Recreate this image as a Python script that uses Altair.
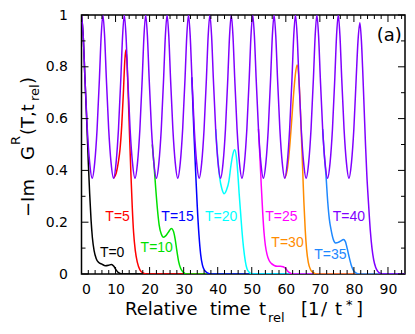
import altair as alt
import pandas as pd

# ---------------- data ----------------
# T=40 (purple) - oscillating curve visible on top
t_T40 = [0, 0.5, 1.0, 1.7, 2.4, 3.14, 3.88, 4.58, 5.28, 5.78,
         6.28, 6.78, 7.28, 7.98, 8.68, 9.42, 10.16, 10.86, 11.57, 12.07,
         12.57, 13.07, 13.57, 14.27, 14.97, 15.71, 16.45, 17.15, 17.85, 18.35,
         18.85, 19.35, 19.85, 20.55, 21.25, 21.99, 22.73, 23.43, 24.13, 24.63,
         25.13, 25.63, 26.13, 26.83, 27.53, 28.27, 29.01, 29.71, 30.42, 30.92,
         31.42, 31.92, 32.42, 33.12, 33.82, 34.56, 35.3, 36.0, 36.7, 37.2,
         37.7, 38.2, 38.7, 39.4, 40.1, 40.84, 41.58, 42.28, 42.98, 43.48,
         43.98, 44.48, 44.98, 45.68, 46.38, 47.12, 47.86, 48.56, 49.27, 49.77,
         50.27, 50.77, 51.27, 51.97, 52.67, 53.41, 54.15, 54.85, 55.55, 56.05,
         56.55, 57.05, 57.55, 58.25, 58.95, 59.69, 60.43, 61.13, 61.83, 62.33,
         62.83, 63.33, 63.83, 64.53, 65.23, 65.97, 66.71, 67.41, 68.12, 68.62,
         69.12, 69.62, 70.12, 70.82, 71.52, 72.26, 73.0, 73.7, 74.4, 74.9,
         75.4, 75.9, 76.4, 77.1, 77.8, 78.54, 79.28, 79.98, 80.68, 81.2,
         81.75, 82.2, 82.6, 83.0, 83.4, 83.8, 84.3, 84.8, 85.3, 85.8,
         86.4, 87.0, 87.8, 88.5, 95]
v_T40 = [1, .92, .76, .56, .43, .37, .43, .56, .76, .92,
         1, .92, .76, .56, .43, .37, .43, .56, .76, .92,
         1, .92, .76, .56, .43, .37, .43, .56, .76, .92,
         1, .92, .76, .56, .43, .37, .43, .56, .76, .92,
         1, .92, .76, .56, .43, .37, .43, .56, .76, .92,
         1, .92, .76, .56, .43, .37, .43, .56, .76, .92,
         1, .92, .76, .56, .43, .37, .43, .56, .76, .92,
         1, .92, .76, .56, .43, .37, .43, .56, .76, .92,
         1, .92, .76, .56, .43, .37, .43, .56, .76, .92,
         1, .92, .76, .56, .43, .37, .43, .56, .76, .92,
         1, .92, .76, .56, .43, .37, .43, .56, .76, .92,
         1, .92, .76, .56, .43, .37, .43, .56, .76, .92,
         1, .92, .76, .56, .43, .37, .43, .56, .76, .90,
         .97, .90, .78, .64, .50, .38, .27, .17, .10, .055,
         .025, .01, .002, 0, 0]

# T=0 (black)
t_T0 = [0, 0.5, 1.0, 1.6, 2.0, 2.4, 2.8, 3.2, 3.7, 4.3, 5.0, 6.0, 7.0, 8.0, 8.8, 9.5, 10.2, 11.0, 12.0, 95]
v_T0 = [1, .92, .76, .57, .43, .31, .21, .14, .09, .06, .045, .038, .032, .034, .037, .03, .015, .004, 0, 0]

# T=5 (red)
t_T5 = [9.42, 10.2, 10.8, 11.3, 11.8, 12.3, 12.7, 13.0, 13.3, 13.7, 14.1, 14.5, 14.9, 15.3, 15.8, 16.4, 17.2, 18.2, 19.0, 95]
v_T5 = [.37, .39, .43, .48, .57, .70, .82, .865, .83, .70, .54, .39, .26, .16, .09, .045, .015, .003, 0, 0]

# T=10 (green)
t_T10 = [20.8, 21.3, 21.8, 22.3, 22.8, 23.4, 24.1, 24.9, 25.7, 26.4, 27.0, 27.5, 28.0, 28.5, 29.1, 29.8, 30.8, 95]
v_T10 = [.50, .42, .33, .25, .19, .155, .142, .15, .165, .176, .165, .135, .09, .05, .022, .008, 0, 0]

# T=15 (blue)
t_T15 = [32.4, 33.0, 33.5, 34.0, 34.5, 35.0, 35.5, 36.1, 37.0, 38.0, 95]
v_T15 = [.76, .55, .40, .26, .15, .075, .035, .015, .004, 0, 0]

# T=20 (cyan)
t_T20 = [39.4, 40.0, 40.6, 41.2, 41.9, 42.6, 43.3, 43.9, 44.5, 45.0, 45.5, 45.9, 46.3, 46.7, 47.1, 47.6, 48.1, 48.6, 49.3, 50.2, 95]
v_T20 = [.56, .45, .37, .33, .31, .325, .36, .42, .465, .48, .45, .39, .31, .24, .17, .10, .05, .02, .006, 0, 0]

# T=25 (magenta)
t_T25 = [51.97, 52.4, 52.8, 53.2, 53.6, 54.0, 54.5, 55.1, 55.8, 56.6, 57.5, 58.4, 59.2, 59.9, 60.5, 61.2, 62.0, 95]
v_T25 = [.56, .45, .34, .24, .16, .11, .075, .052, .04, .033, .03, .03, .028, .022, .012, .004, 0, 0]

# T=30 (orange)
t_T30 = [59.69, 60.4, 61.0, 61.6, 62.2, 62.8, 63.3, 63.7, 64.1, 64.5, 64.9, 65.3, 65.7, 66.1, 66.6, 67.3, 68.2, 69.0, 95]
v_T30 = [.37, .40, .47, .57, .68, .77, .807, .78, .69, .56, .42, .28, .17, .095, .045, .016, .004, 0, 0]

# T=35 (light blue)
t_T35 = [70.82, 71.3, 71.8, 72.3, 72.8, 73.3, 73.9, 74.6, 75.4, 76.2, 76.9, 77.5, 78.0, 78.6, 79.2, 79.8, 80.6, 81.5, 95]
v_T35 = [.56, .46, .38, .28, .21, .17, .135, .12, .122, .128, .133, .125, .10, .065, .035, .015, .004, 0, 0]

series = [
    ("T=0", t_T0, v_T0, "#000000"),
    ("T=5", t_T5, v_T5, "#ff0000"),
    ("T=10", t_T10, v_T10, "#00e000"),
    ("T=15", t_T15, v_T15, "#0000ff"),
    ("T=20", t_T20, v_T20, "#00ffff"),
    ("T=25", t_T25, v_T25, "#ff00ff"),
    ("T=30", t_T30, v_T30, "#ff8c00"),
    ("T=35", t_T35, v_T35, "#1e88ff"),
    ("T=40", t_T40, v_T40, "#8000ff"),
]

# curve labels: text, t position, value position
label_text = ["T=0", "T=5", "T=10", "T=15", "T=20", "T=25", "T=30", "T=35", "T=40"]
label_t = [9.0, 10.6, 22.1, 28.2, 41.0, 58.7, 60.5, 73.1, 78.5]
label_v = [0.081, 0.22, 0.10, 0.22, 0.22, 0.22, 0.12, 0.073, 0.22]
label_color = ["#000000", "#ff0000", "#00e000", "#0000ff", "#00ffff", "#ff00ff", "#ff8c00", "#1e88ff", "#8000ff"]

# axes ticks
x_major = [0, 10, 20, 30, 40, 50, 60, 70, 80, 90]
x_minor = [2, 4, 6, 8, 12, 14, 16, 18, 22, 24, 26, 28, 32, 34, 36, 38, 42, 44, 46, 48,
           52, 54, 56, 58, 62, 64, 66, 68, 72, 74, 76, 78, 82, 84, 86, 88, 92, 94]
y_major = [0, 0.2, 0.4, 0.6, 0.8, 1.0]
y_minor = [0.1, 0.3, 0.5, 0.7, 0.9]

# ---------------- chart ----------------
W, H = 323.5, 259
FONT = "DejaVu Sans"

xs = alt.Scale(domain=[0, 95], nice=False, zero=False)
ys = alt.Scale(domain=[0, 1], nice=False)

X = alt.X("t:Q", scale=xs, axis=alt.Axis(values=x_major, ticks=False, domain=False, grid=False,
                                         labelFont=FONT, labelFontSize=14, labelColor="black",
                                         labelPadding=8, title=None))
Y = alt.Y("v:Q", scale=ys, axis=alt.Axis(values=y_major, ticks=False, domain=False, grid=False,
                                         labelFont=FONT, labelFontSize=14, labelColor="black",
                                         labelPadding=14, format=".1~f", title=None))

layers = []
for name, tt, vv, col in series:
    df = pd.DataFrame({"t": tt, "v": vv})
    layers.append(alt.Chart(df).mark_line(interpolate="monotone", strokeWidth=1.5, color=col, clip=True)
                  .encode(x=X, y=Y))

lab_df = pd.DataFrame({"t": label_t, "v": label_v, "txt": label_text, "c": label_color})
layers.append(alt.Chart(lab_df).mark_text(font="Liberation Sans", fontSize=14, align="center", baseline="middle")
              .encode(x=X, y=Y, text="txt:N", color=alt.Color("c:N", scale=None)))

# "(a)" panel tag
layers.append(alt.Chart(pd.DataFrame({"t": [90.4], "v": [0.919], "txt": ["(a)"]}))
              .mark_text(font=FONT, fontSize=18, align="center", baseline="middle", color="black")
              .encode(x=X, y=Y, text="txt:N"))

# inward ticks
dxM = pd.DataFrame({"t": x_major})
dxm = pd.DataFrame({"t": x_minor})
dyM = pd.DataFrame({"v": y_major})
dym = pd.DataFrame({"v": y_minor})
tk = dict(color="black", strokeWidth=1)
layers += [
    alt.Chart(dxM).mark_rule(**tk).encode(x=X, y=alt.value(H), y2=alt.value(H - 7)),
    alt.Chart(dxm).mark_rule(**tk).encode(x=X, y=alt.value(H), y2=alt.value(H - 4)),
    alt.Chart(dxM).mark_rule(**tk).encode(x=X, y=alt.value(0), y2=alt.value(7)),
    alt.Chart(dxm).mark_rule(**tk).encode(x=X, y=alt.value(0), y2=alt.value(4)),
    alt.Chart(dyM).mark_rule(**tk).encode(y=Y, x=alt.value(0), x2=alt.value(7)),
    alt.Chart(dym).mark_rule(**tk).encode(y=Y, x=alt.value(0), x2=alt.value(4)),
    alt.Chart(dyM).mark_rule(**tk).encode(y=Y, x=alt.value(W), x2=alt.value(W - 7)),
    alt.Chart(dym).mark_rule(**tk).encode(y=Y, x=alt.value(W), x2=alt.value(W - 4)),
]

# axis titles as composed text pieces (page px -> plot px)
OX, OY = 81.5, 15
one = pd.DataFrame({"a": [0]})


def piece(txt, px, py, size, angle=0):
    kw = dict(text=txt, font=FONT, fontSize=size, align="left", baseline="alphabetic", color="black")
    if angle:
        kw["angle"] = angle
    return alt.Chart(one).mark_text(**kw).encode(x=alt.value(px - OX), y=alt.value(py - OY))


# x title: Relative time t_rel [1/t*]
layers += [
    piece("Relative", 125, 315, 18),
    piece("time", 210, 315, 18),
    piece("t", 259, 315, 18),
    piece("rel", 268, 322, 13),
    piece("[", 301, 315, 18),
    piece("1", 308, 315, 18),
    piece("/", 321, 315, 18),
    piece("t", 335, 315, 18),
    piece("*", 346, 309, 13),
    piece("]", 356, 315, 18),
]
# y title: -Im G^R(T,t_rel)  (rotated, reading upwards)
layers += [
    piece("\u2212Im", 34, 217, 18, 270),
    piece("G", 34, 160, 18, 270),
    piece("R", 20, 145, 13, 270),
    piece("(T,t", 34, 135, 18, 270),
    piece("rel", 39, 101, 13, 270),
    piece(")", 34, 84, 18, 270),
]

chart = alt.layer(*layers).properties(
    width=W, height=H,
    autosize=alt.AutoSizeParams(type="none"),
    padding={"left": 73.5, "top": 7, "right": 2, "bottom": 56},
).configure_view(stroke="black", strokeWidth=1.5)

chart.save("out.html", embed_options={"renderer": "svg", "actions": False})
